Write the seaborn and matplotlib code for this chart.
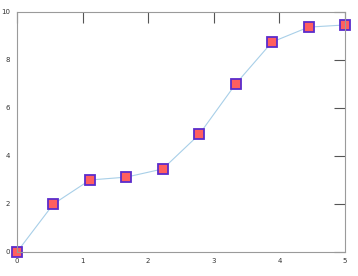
import matplotlib
matplotlib.use("Agg")
import matplotlib.pyplot as plt
import seaborn as sns
import pandas as pd

x_vals = [0, 0.5556, 1.1111, 1.6667, 2.2222, 2.7778, 3.3333, 3.8889, 4.4444, 5.0]
y_vals = [0.0, 2.0, 3.0, 3.12, 3.46, 4.9, 7.0, 8.75, 9.37, 9.46]
x_ticks = [0, 1, 2, 3, 4, 5]
y_ticks = [0, 2, 4, 6, 8, 10]

sns.set_style("white")
plt.rcParams['font.family'] = ['DejaVu Sans']

fig = plt.figure(figsize=(3.58, 2.76), dpi=100)
ax = fig.add_axes([17/358, 1 - 252/276, (345 - 17)/358, (252 - 12)/276])

df = pd.DataFrame({"x": x_vals, "y": y_vals})
sns.lineplot(data=df, x="x", y="y", ax=ax, color="#a8cfe8", linewidth=0.8,
             marker="s", markersize=7.5, markerfacecolor="#ff5f5f",
             markeredgecolor="#5a2ccc", markeredgewidth=1.3, clip_on=False)

ax.set_xlim(0, 5)
ax.set_ylim(0, 10)
ax.set_xticks(x_ticks)
ax.set_yticks(y_ticks)
ax.set_xlabel("")
ax.set_ylabel("")
for s in ax.spines.values():
    s.set_color("#9a9a9a")
    s.set_linewidth(0.8)
ax.tick_params(direction="in", length=8, width=0.8, color="#555555",
               labelsize=5, labelcolor="#333333", top=True, right=True,
               pad=4)
ax.tick_params(axis="y", pad=5)

fig.savefig("out.png", dpi=100)
